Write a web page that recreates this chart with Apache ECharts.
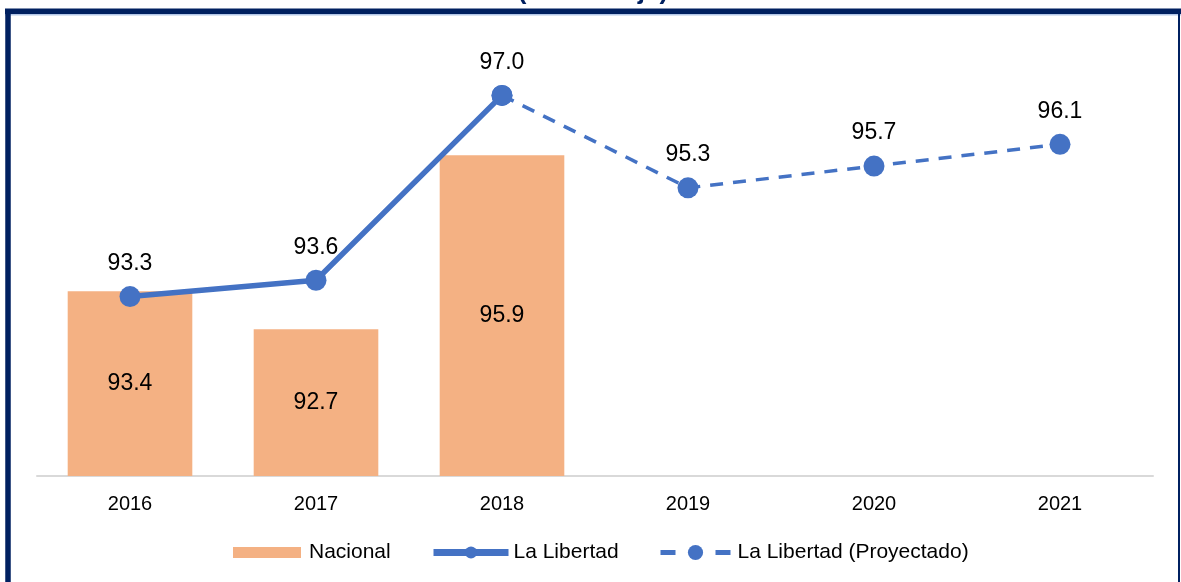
<!DOCTYPE html>
<html><head><meta charset="utf-8">
<script src="https://cdn.jsdelivr.net/npm/echarts@6/dist/echarts.min.js"></script>
<style>html,body{margin:0;padding:0;background:#fff}#c{width:1181px;height:582px}</style>
</head><body><div id="c"></div>
<script>
const categories = ['2016','2017','2018','2019','2020','2021'];
const nacional = [93.4, 92.7, 95.9, null, null, null];
const laLibertad = [93.3, 93.6, 97.0, null, null, null];
const proyectado = [null, null, 97.0, 95.3, 95.7, 96.1];
const seriesNames = ['Nacional', 'La Libertad', 'La Libertad (Proyectado)'];
const titleText = '(Porcentaje)';

const chart = echarts.init(document.getElementById('c'), null, {renderer:'canvas'});
const blue = '#4472C4', navy = '#002060', font = '"Liberation Sans", Arial, sans-serif';
const legendText = {fontSize:21, color:'#000', fontFamily:font};
chart.setOption({
  animation:false,
  textStyle:{fontFamily:font},
  grid:{left:37, right:28, top:41, bottom:106, containLabel:false},
  xAxis:{type:'category', data:categories,
    axisLine:{lineStyle:{color:'#D9D9D9', width:2}}, axisTick:{show:false},
    axisLabel:{color:'#000', fontSize:20, margin:18, fontFamily:font}},
  yAxis:{type:'value', min:90, max:98, show:false, splitLine:{show:false}},
  legend:[
    {left:233, top:542, padding:0, selectedMode:false, itemWidth:68, itemHeight:11,
     textStyle:{...legendText, padding:[0,0,0,3]}, data:[{name:seriesNames[0], icon:'rect'}]},
    {left:430, top:542, padding:0, selectedMode:false, itemWidth:75, itemHeight:15,
     lineStyle:{width:7}, textStyle:legendText, data:[seriesNames[1]]},
    {left:658, top:542, padding:0, selectedMode:false, itemWidth:70, itemHeight:19,
     lineStyle:{width:5, type:[15,40]}, textStyle:{...legendText, padding:[0,0,0,2]}, data:[seriesNames[2]]}
  ],
  series:[
    {name:seriesNames[0], type:'bar', data:nacional, barWidth:'67%', itemStyle:{color:'#F4B183'},
     label:{show:true, position:'inside', color:'#000', fontSize:23, fontFamily:font, formatter:p=>p.value.toFixed(1)}},
    {name:seriesNames[1], type:'line', data:laLibertad, symbol:'circle', symbolSize:21, z:3,
     lineStyle:{color:blue, width:5.5}, itemStyle:{color:blue},
     label:{show:true, position:'top', distance:11, color:'#000', fontSize:23, fontFamily:font, formatter:p=>p.value.toFixed(1)}},
    {name:seriesNames[2], type:'line', symbol:'circle', symbolSize:21, z:2,
     data:proyectado.map((v,i)=>({value:v, label:{show: v!==null && laLibertad[i]===null}})),
     lineStyle:{color:blue, width:3.5, type:[13,10]}, itemStyle:{color:blue},
     label:{position:'top', distance:11, color:'#000', fontSize:23, fontFamily:font, formatter:p=>p.value.toFixed(1)}}
  ],
  graphic:[
    {type:'text', x:593, y:-21, style:{text:titleText, fill:navy, font:'bold 26px '+font, align:'center', verticalAlign:'top'}},
    {type:'line', shape:{x1:5, y1:14.8, x2:1181, y2:14.8}, style:{stroke:'#B4C7E7', lineWidth:1.5}},
    {type:'line', shape:{x1:5, y1:11.2, x2:1181, y2:11.2}, style:{stroke:navy, lineWidth:5.5}},
    {type:'line', shape:{x1:8, y1:9, x2:8, y2:582}, style:{stroke:navy, lineWidth:5.5}},
    {type:'line', shape:{x1:1179, y1:9, x2:1179, y2:582}, style:{stroke:navy, lineWidth:2}}
  ]
});
</script></body></html>
